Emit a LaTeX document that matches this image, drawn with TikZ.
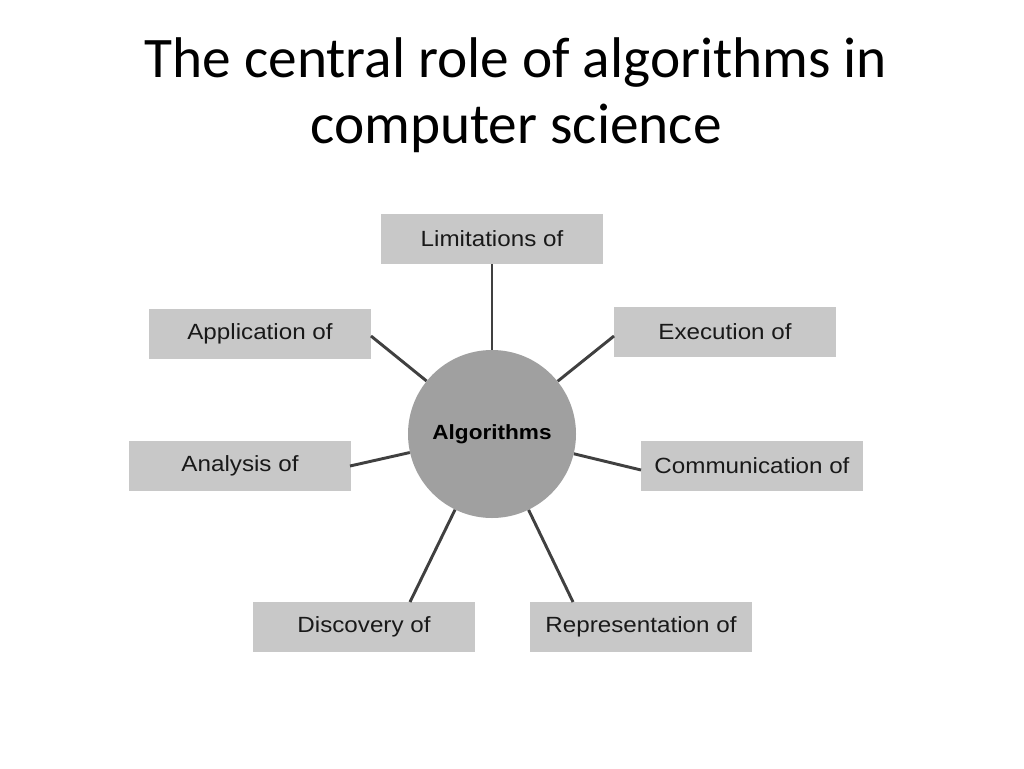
\documentclass[tikz,border=0pt]{standalone}
\usepackage{fontspec}
\setmainfont{Carlito}
\newfontfamily\boxfont[FakeStretch=1.1]{Liberation Sans}
\definecolor{boxgray}{RGB}{200,200,200}
\definecolor{circgray}{RGB}{160,160,160}
\definecolor{linegray}{RGB}{64,64,64}
\begin{document}
\begin{tikzpicture}[x=0.75pt,y=-0.75pt,
  topic/.style={fill=boxgray,draw=none,minimum width=222*0.75pt,minimum height=50*0.75pt,inner sep=0pt,
    font=\boxfont\fontsize{16.5pt}{18pt}\selectfont,text=black!90},
  hub/.style={circle,fill=circgray,draw=none,minimum size=168*0.75pt,inner sep=0pt,
    font=\boxfont\bfseries\fontsize{15.4pt}{17pt}\selectfont},
  spoke/.style={draw=linegray,line width=2.2pt},
  title/.style={font=\fontsize{43pt}{50pt}\selectfont,anchor=base}]
\useasboundingbox (0,0) rectangle (1024,768);
\node[title] (t1) at (516,77) {The central role of algorithms in};
\node[title] (t2) at (516,143) {computer science};
\node[hub] (alg) at (492,434) {Algorithms};
\node[topic] (lim) at (492,239) {Limitations of};
\node[topic] (exe) at (725,332) {Execution of};
\node[topic] (com) at (752,466) {Communication of};
\node[topic] (rep) at (641,627) {Representation of};
\node[topic] (dis) at (364,627) {Discovery of};
\node[topic] (ana) at (240,466) {Analysis of};
\node[topic] (app) at (260,334) {Application of};
\coordinate (exeP) at (614,336);
\coordinate (comP) at (641,470);
\coordinate (repP) at (573,602);
\coordinate (disP) at (410,602);
\coordinate (anaP) at (350,466);
\coordinate (appP) at (371,336);
\draw[spoke] (alg) -- (lim.south);
\draw[spoke] (alg) -- (exeP);
\draw[spoke] (alg) -- (comP);
\draw[spoke] (alg) -- (repP);
\draw[spoke] (alg) -- (disP);
\draw[spoke] (alg) -- (anaP);
\draw[spoke] (alg) -- (appP);
\end{tikzpicture}
\end{document}
